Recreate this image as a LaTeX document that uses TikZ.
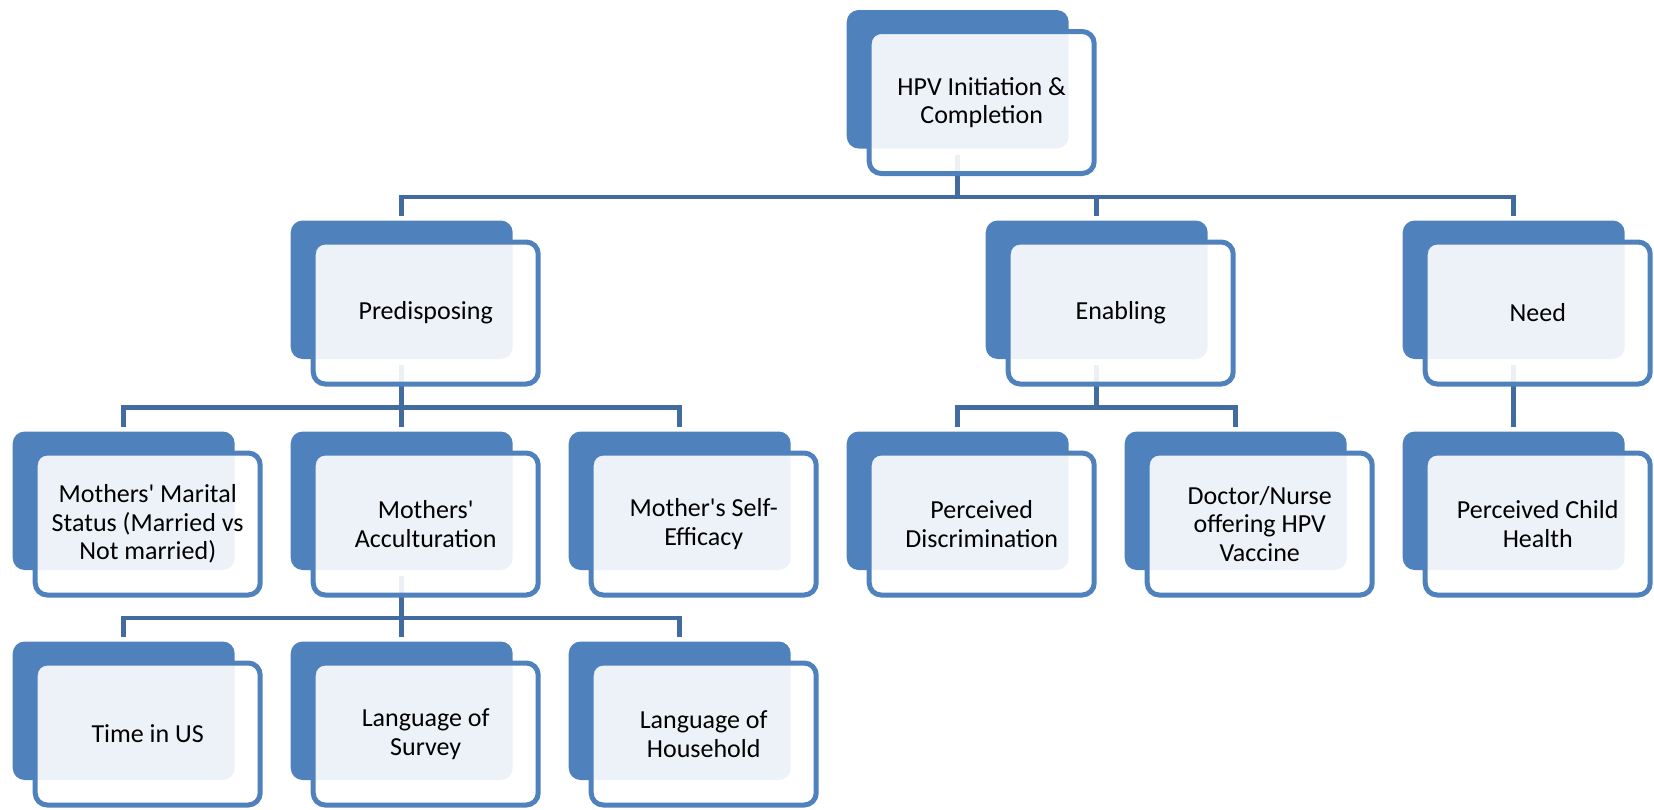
\documentclass[tikz,border=0pt]{standalone}
\usepackage{fontspec}
\setmainfont{Carlito}
\usetikzlibrary{calc}
\pgfdeclarelayer{bg}
\pgfsetlayers{bg,main}
\definecolor{accent}{RGB}{79,129,189}
\definecolor{connc}{RGB}{66,107,160}
\tikzset{
  backbox/.style={rectangle, fill=accent, rounded corners=12pt, minimum width=222pt, minimum height=138.5pt, inner sep=0pt, outer sep=0pt, anchor=north west},
  frontbox/.style={rectangle, draw=accent, line width=5pt, fill=white, fill opacity=0.9, text opacity=1, rounded corners=12pt, minimum width=225pt, minimum height=142pt, inner sep=0pt, outer sep=0pt, anchor=north west, align=center, font=\fontsize{26}{28.5}\selectfont},
  conn/.style={draw=connc, line width=4.5pt}
}
\newcommand\elem[4]{%
  \node[backbox] (#1b) at (#2,#3) {};
  \node[frontbox] (#1) at ({#2+22.5},{#3+21.5}) {#4};
}
\newcommand\link[3]{%
  \draw[conn] ([yshift=-6pt]#1b.south) -- (#1b.south |- #3) -| ([yshift=5pt]#2b.north);
}
\begin{document}
\begin{tikzpicture}[x=1pt,y=-1pt]
\useasboundingbox (0,0) rectangle (1654,809);
\coordinate (bar1) at (0,197);
\coordinate (bar2) at (0,407.5);
\coordinate (bar3) at (0,618);
% level 0
\elem{hpv}{846.7}{10}{HPV Initiation \&\\Completion}
% level 1
\elem{pre}{290.7}{220.5}{Predisposing}
\elem{ena}{985.7}{220.5}{Enabling}
\elem{need}{1402.7}{220.5}{Need}
% level 2
\elem{mar}{12.7}{431.5}{Mothers\textquotesingle{} Marital\\Status (Married vs\\Not married)}
\elem{acc}{290.7}{431.5}{Mothers\textquotesingle\\Acculturation}
\elem{eff}{568.7}{431.5}{Mother\textquotesingle{}s Self-\\Efficacy}
\elem{dis}{846.7}{431.5}{Perceived\\Discrimination}
\elem{doc}{1124.7}{431.5}{Doctor/Nurse\\offering HPV\\Vaccine}
\elem{chi}{1402.7}{431.5}{Perceived Child\\Health}
% level 3
\elem{tim}{12.7}{641.5}{Time in US}
\elem{sur}{290.7}{641.5}{Language of\\Survey}
\elem{hou}{568.7}{641.5}{Language of\\Household}
\begin{pgfonlayer}{bg}
\link{hpv}{pre}{bar1}
\link{hpv}{ena}{bar1}
\link{hpv}{need}{bar1}
\link{pre}{mar}{bar2}
\link{pre}{acc}{bar2}
\link{pre}{eff}{bar2}
\link{ena}{dis}{bar2}
\link{ena}{doc}{bar2}
\link{need}{chi}{bar2}
\link{acc}{tim}{bar3}
\link{acc}{sur}{bar3}
\link{acc}{hou}{bar3}
\end{pgfonlayer}
\end{tikzpicture}
\end{document}
